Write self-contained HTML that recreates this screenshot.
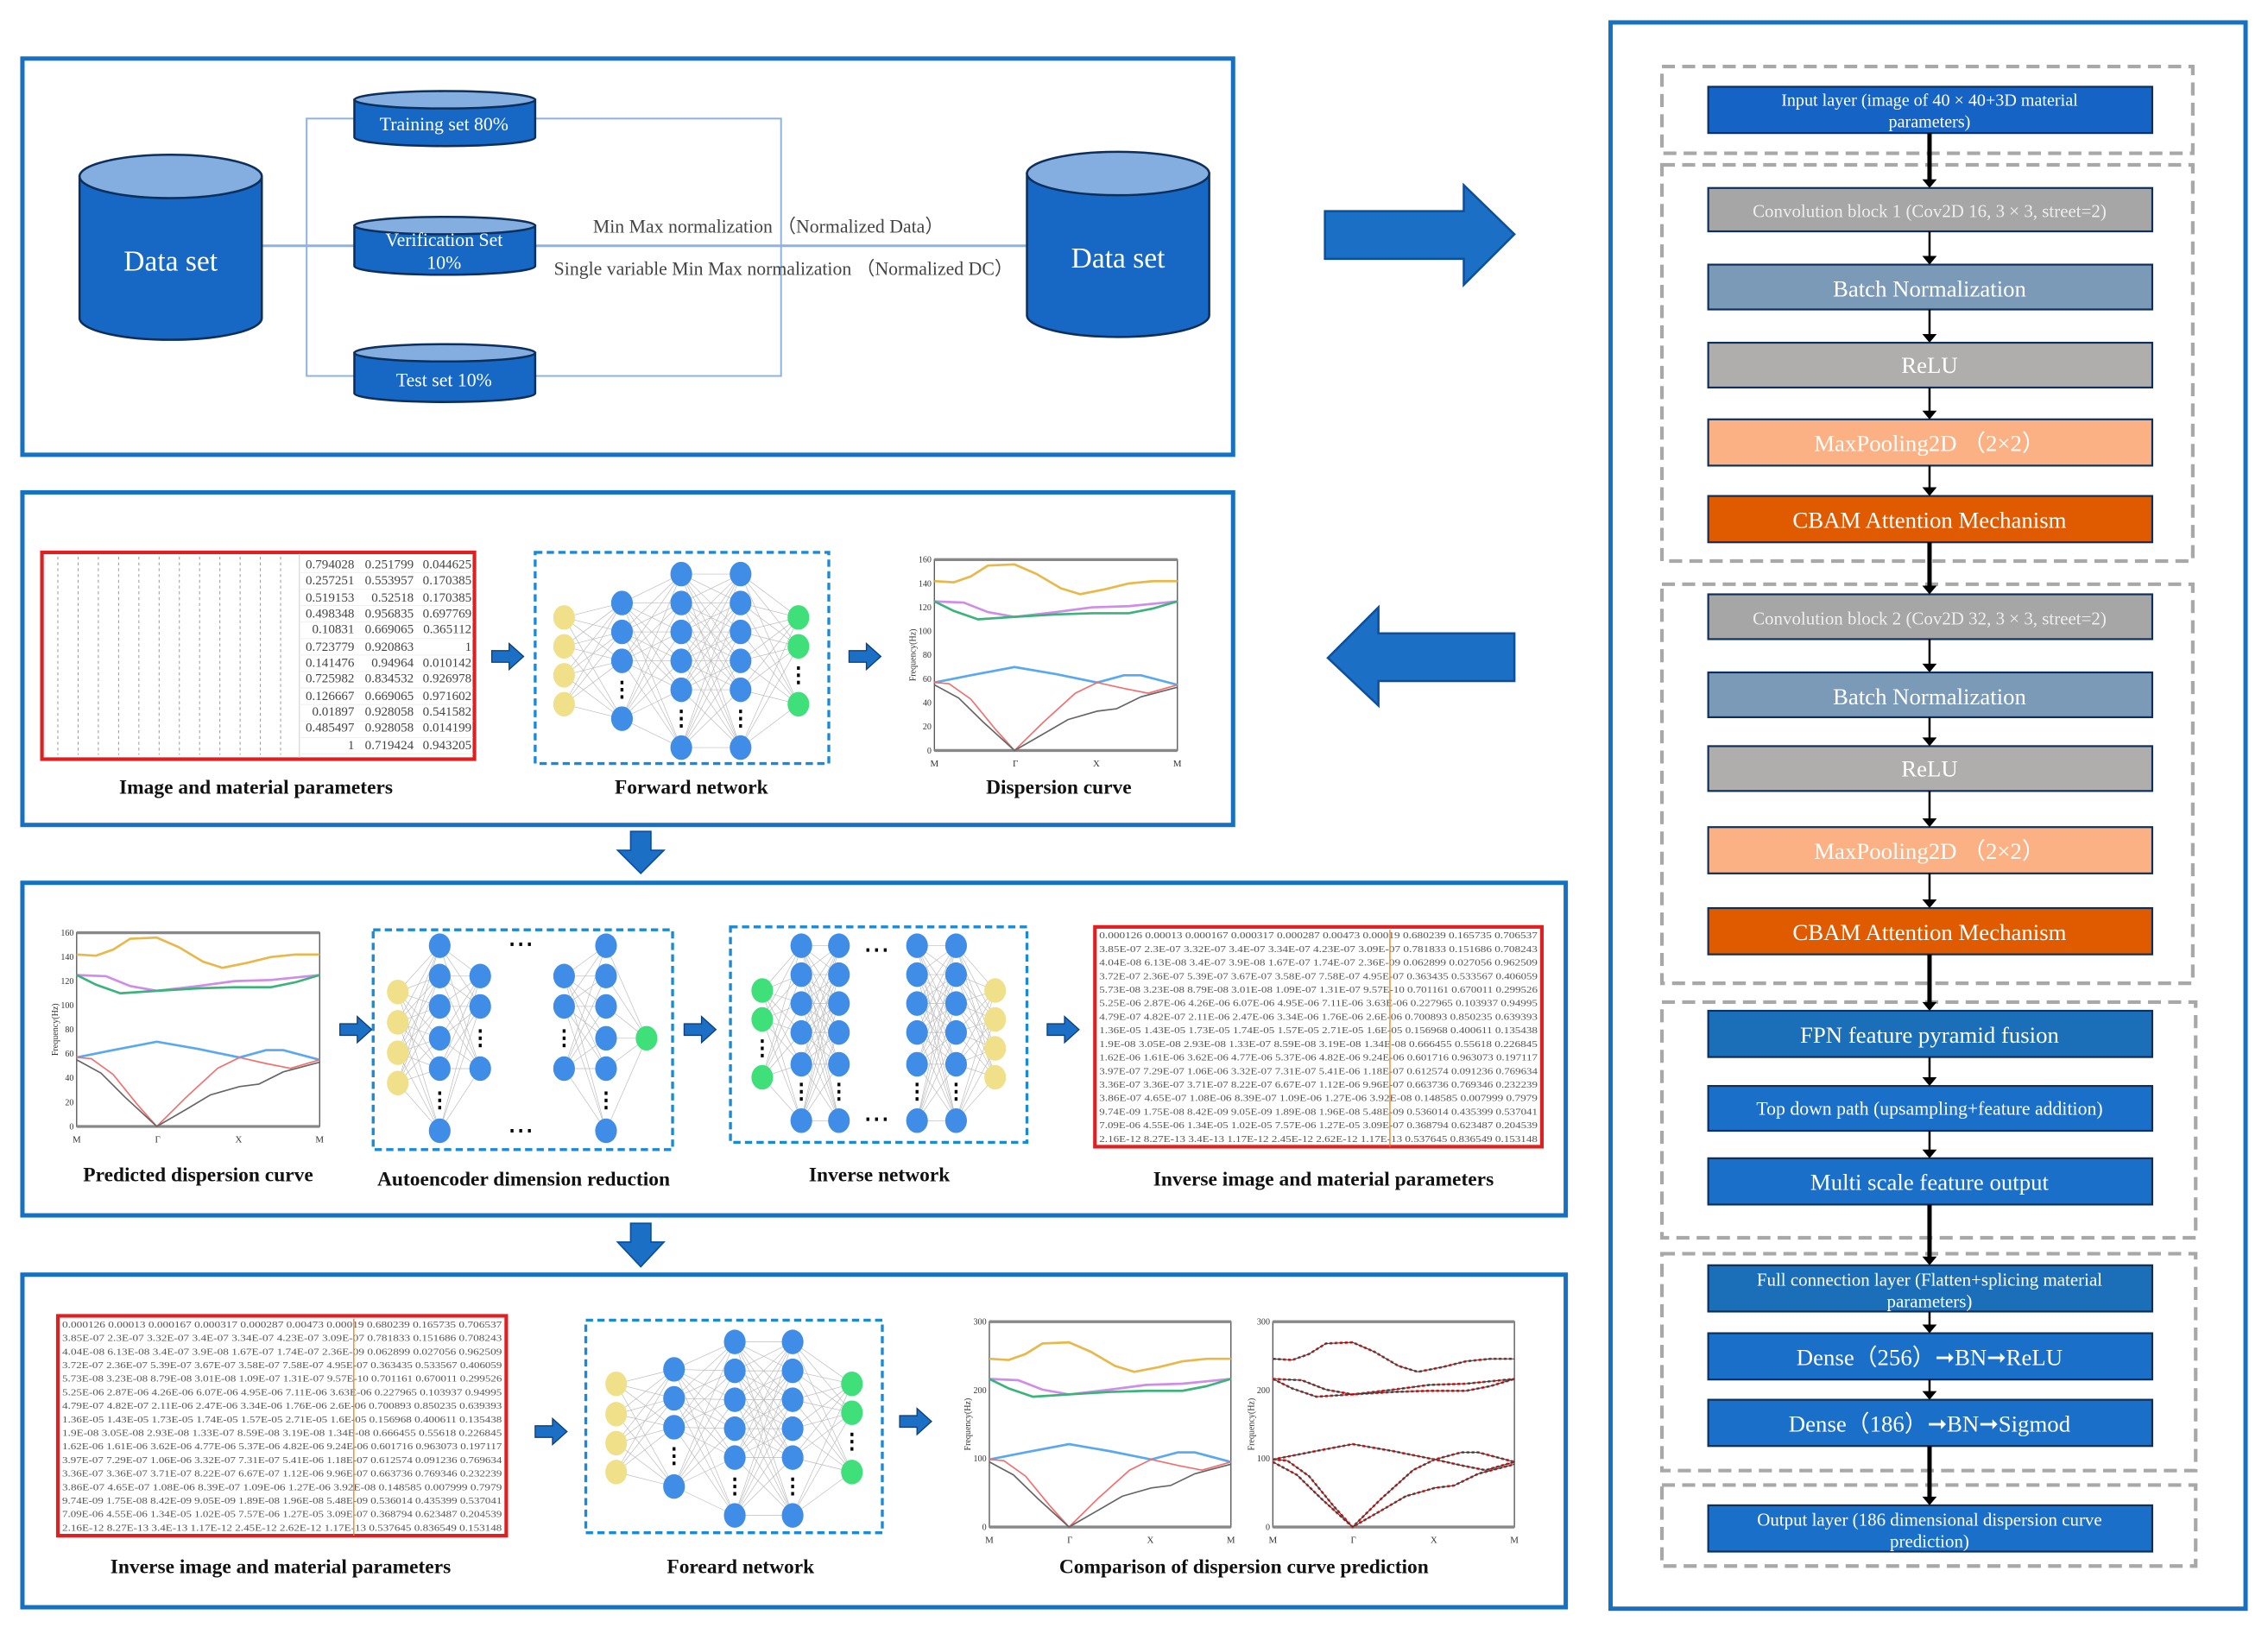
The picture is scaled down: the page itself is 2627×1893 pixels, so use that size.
<!DOCTYPE html>
<html><head><meta charset="utf-8"><style>
html,body{margin:0;padding:0;background:#fff;width:2627px;height:1893px;overflow:hidden}
svg{display:block}
text{font-family:"Liberation Serif",serif}
</style></head><body>
<svg id="s" width="2627" height="1893" viewBox="0 0 1568 1130" preserveAspectRatio="none" xmlns="http://www.w3.org/2000/svg">
<rect width="1568" height="1130" fill="#fff"/>

<g fill="none" stroke="#1671c2" stroke-width="3">
<rect x="15.5" y="40.5" width="837" height="274"/>
<rect x="15.5" y="340.5" width="837" height="230"/>
<rect x="15.5" y="610.5" width="1067" height="230"/>
<rect x="15.5" y="881.5" width="1067" height="230"/>
<rect x="1113.5" y="15.5" width="439" height="1097"/>
</g>

<g stroke="#8db3e2" stroke-width="1.2" fill="none">
<rect x="212" y="82" width="328" height="178"/>
<line x1="181" y1="170" x2="710" y2="170" stroke-width="1.8"/>
</g>
<g id="cyls"></g>
<text x="118" y="187" font-size="20" fill="#fff" text-anchor="middle">Data set</text>
<text x="773" y="185" font-size="20" fill="#fff" text-anchor="middle">Data set</text>
<text x="307" y="90" font-size="13" fill="#fff" text-anchor="middle">Training set 80%</text>
<text x="307" y="170" font-size="13" fill="#fff" text-anchor="middle">Verification Set</text>
<text x="307" y="186" font-size="13" fill="#fff" text-anchor="middle">10%</text>
<text x="307" y="267" font-size="13" fill="#fff" text-anchor="middle">Test set 10%</text>
<text x="410" y="161" font-size="13" fill="#444">Min Max normalization （Normalized Data）</text>
<text x="383" y="190" font-size="13" fill="#444">Single variable Min Max normalization （Normalized DC）</text>

<path d="M916,146 L1012,146 L1012,128 L1047,162 L1012,197 L1012,179 L916,179 Z" fill="#1b6fc4" stroke="#0d4f9c" stroke-width="1.5"/>
<path d="M1047,438 L953,438 L953,420 L918,455 L953,488 L953,471 L1047,471 Z" fill="#1b6fc4" stroke="#0d4f9c" stroke-width="1.5"/>
<path d="M436,575 L450,575 L450,588 L459,588 L443,604 L427,588 L436,588 Z" fill="#1b6fc4" stroke="#0d4f9c"/>
<path d="M436,846 L450,846 L450,859 L459,859 L443,876 L427,859 L436,859 Z" fill="#1b6fc4" stroke="#0d4f9c"/>

<rect x="29" y="382" width="299" height="143" fill="#fff" stroke="#e02020" stroke-width="2.5"/>
<g id="grid2"></g>
<g font-size="9" fill="#444" text-anchor="end">
<text x="245" y="393">0.794028</text><text x="286" y="393">0.251799</text><text x="326" y="393">0.044625</text>
<text x="245" y="404">0.257251</text><text x="286" y="404">0.553957</text><text x="326" y="404">0.170385</text>
<text x="245" y="416">0.519153</text><text x="286" y="416">0.52518</text><text x="326" y="416">0.170385</text>
<text x="245" y="427">0.498348</text><text x="286" y="427">0.956835</text><text x="326" y="427">0.697769</text>
<text x="245" y="438">0.10831</text><text x="286" y="438">0.669065</text><text x="326" y="438">0.365112</text>
<text x="245" y="450">0.723779</text><text x="286" y="450">0.920863</text><text x="326" y="450">1</text>
<text x="245" y="461">0.141476</text><text x="286" y="461">0.94964</text><text x="326" y="461">0.010142</text>
<text x="245" y="472">0.725982</text><text x="286" y="472">0.834532</text><text x="326" y="472">0.926978</text>
<text x="245" y="484">0.126667</text><text x="286" y="484">0.669065</text><text x="326" y="484">0.971602</text>
<text x="245" y="495">0.01897</text><text x="286" y="495">0.928058</text><text x="326" y="495">0.541582</text>
<text x="245" y="506">0.485497</text><text x="286" y="506">0.928058</text><text x="326" y="506">0.014199</text>
<text x="245" y="518">1</text><text x="286" y="518">0.719424</text><text x="326" y="518">0.943205</text>
</g>
<rect x="370" y="382" width="203" height="146" fill="none" stroke="#1a8ad4" stroke-width="2" stroke-dasharray="5,3"/>
<g id="net2"></g>
<g id="ch2"></g>
<g id="smallarrows"></g>
<g font-size="14" font-weight="bold" fill="#111" text-anchor="middle">
<text x="177" y="549">Image and material parameters</text>
<text x="478" y="549">Forward network</text>
<text x="732" y="549">Dispersion curve</text>
</g>

<g id="ch3"></g>
<rect x="258" y="643" width="207" height="152" fill="none" stroke="#1a8ad4" stroke-width="2" stroke-dasharray="5,3"/>
<rect x="505" y="641" width="205" height="149" fill="none" stroke="#1a8ad4" stroke-width="2" stroke-dasharray="5,3"/>
<g id="net3"></g>
<rect x="757" y="641" width="309" height="152" fill="#fff" stroke="#e02020" stroke-width="2.5"/>
<g id="tab3" font-size="6.3" fill="#555"></g>
<g font-size="14" font-weight="bold" fill="#111" text-anchor="middle">
<text x="137" y="817">Predicted dispersion curve</text>
<text x="362" y="820">Autoencoder dimension reduction</text>
<text x="608" y="817">Inverse network</text>
<text x="915" y="820">Inverse image and material parameters</text>
</g>

<rect x="40" y="910" width="310" height="152" fill="#fff" stroke="#e02020" stroke-width="2.5"/>
<g id="tab4" font-size="6.3" fill="#555"></g>
<rect x="405" y="913" width="205" height="147" fill="none" stroke="#1a8ad4" stroke-width="2" stroke-dasharray="5,3"/>
<g id="net4"></g>
<g id="ch4"></g>
<g font-size="14" font-weight="bold" fill="#111" text-anchor="middle">
<text x="194" y="1088">Inverse image and material parameters</text>
<text x="512" y="1088">Foreard network</text>
<text x="860" y="1088">Comparison of dispersion curve prediction</text>
</g>

<g fill="none" stroke="#a8a8a8" stroke-width="2.5" stroke-dasharray="9,5">
<rect x="1149" y="46" width="367" height="60"/>
<rect x="1149" y="114" width="367" height="274"/>
<rect x="1149" y="404" width="367" height="276"/>
<rect x="1149" y="693" width="369" height="163"/>
<rect x="1149" y="867" width="369" height="150"/>
<rect x="1149" y="1027" width="369" height="56"/>
</g>
<g id="flow"></g>
<g fill="#fff" text-anchor="middle">
<text x="1334" y="73" font-size="12">Input layer (image of 40 × 40+3D material</text>
<text x="1334" y="88" font-size="12">parameters)</text>
<text x="1334" y="150" font-size="12.5" fill="#eee">Convolution block 1 (Cov2D 16, 3 × 3, street=2)</text>
<text x="1334" y="205" font-size="16">Batch Normalization</text>
<text x="1334" y="258" font-size="16">ReLU</text>
<text x="1334" y="312" font-size="16">MaxPooling2D （2×2）</text>
<text x="1334" y="365" font-size="16">CBAM Attention Mechanism</text>
<text x="1334" y="432" font-size="12.5" fill="#eee">Convolution block 2 (Cov2D 32, 3 × 3, street=2)</text>
<text x="1334" y="487" font-size="16">Batch Normalization</text>
<text x="1334" y="537" font-size="16">ReLU</text>
<text x="1334" y="594" font-size="16">MaxPooling2D （2×2）</text>
<text x="1334" y="650" font-size="16">CBAM Attention Mechanism</text>
<text x="1334" y="721" font-size="16">FPN feature pyramid fusion</text>
<text x="1334" y="771" font-size="13">Top down path (upsampling+feature addition)</text>
<text x="1334" y="823" font-size="16">Multi scale feature output</text>
<text x="1334" y="889" font-size="12.5">Full connection layer (Flatten+splicing material</text>
<text x="1334" y="904" font-size="12.5">parameters)</text>
<text x="1334" y="944" font-size="16">Dense（256）➞BN➞ReLU</text>
<text x="1334" y="990" font-size="16">Dense（186）➞BN➞Sigmod</text>
<text x="1334" y="1055" font-size="12.5">Output layer (186 dimensional dispersion curve</text>
<text x="1334" y="1070" font-size="12.5">prediction)</text>
</g>
</svg>
<script>
const NS="http://www.w3.org/2000/svg";
function el(p,t,a){const e=document.createElementNS(NS,t);for(const k in a)e.setAttribute(k,a[k]);p.appendChild(e);return e;}
const g=id=>document.getElementById(id);
function cyl(x,y,w,h,ry){const c=g('cyls');
 el(c,'path',{d:`M${x},${y} L${x},${y+h} A${w/2},${ry} 0 0 0 ${x+w},${y+h} L${x+w},${y} Z`,fill:'#1668c4',stroke:'#0c2f5c','stroke-width':1.5});
 el(c,'ellipse',{cx:x+w/2,cy:y,rx:w/2,ry:ry,fill:'#85aee0',stroke:'#0c2f5c','stroke-width':1.5});}
cyl(55,122,126,98,15);cyl(710,120,126,98,15);
cyl(245,69,125,26,6);cyl(245,156,125,28,6);cyl(245,244,125,28,6);
(function(){const c=g('grid2');for(let i=0;i<12;i++){el(c,'line',{x1:40+i*14,y1:385,x2:40+i*14,y2:522,stroke:'#999','stroke-width':0.6,'stroke-dasharray':'2,2'});}
el(c,'line',{x1:207,y1:383,x2:207,y2:524,stroke:'#ccc','stroke-width':0.6});
for(let i=0;i<12;i++)el(c,'line',{x1:207,y1:396+i*11.4,x2:327,y2:396+i*11.4,stroke:'#eee','stroke-width':0.5});})();
function net(id,layers,r){const c=g(id);const lg=el(c,'g',{stroke:'#bbb','stroke-width':0.4});
 for(let i=0;i<layers.length-1;i++){const a=layers[i],b=layers[i+1];if(a.nolink)continue;for(const y1 of a.ys)for(const y2 of b.ys)el(lg,'line',{x1:a.x,y1:y1,x2:b.x,y2:y2});}
 for(const L of layers){for(const y of L.ys)el(c,'ellipse',{cx:L.x,cy:y,rx:r[0],ry:r[1],fill:L.c});
  if(L.d)for(const dy of L.d)for(let k=-1;k<=1;k++)el(c,'rect',{x:L.x-1,y:dy+k*5-1.2,width:2,height:2.4,fill:'#000'});}}
const Y='#f0e08a',B='#3f8de6',G='#3fe07a';
net('net2',[{x:390,ys:[427,447,467,487],c:Y},{x:430,ys:[417,437,457,497],c:B,d:[477]},{x:471,ys:[397,417,437,457,477,517],c:B,d:[497]},{x:512,ys:[397,417,437,457,477,517],c:B,d:[497]},{x:552,ys:[427,447,487],c:G,d:[467]}],[7.5,8.5]);
net('net4',[{x:426,ys:[957,978,998,1018],c:Y},{x:466,ys:[947,967,987,1028],c:B,d:[1007]},{x:508,ys:[928,948,968,988,1008,1048],c:B,d:[1028]},{x:548,ys:[928,948,968,988,1008,1048],c:B,d:[1028]},{x:589,ys:[957,977,1018],c:G,d:[997]}],[7.5,8.5]);
net('net3',[{x:275,ys:[686,707,728,749],c:Y},{x:304,ys:[654,675,696,718,739,782],c:B,d:[761]},{x:332,ys:[675,696,739],c:B,d:[718],nolink:true},{x:390,ys:[675,696,739],c:B,d:[718]},{x:419,ys:[654,675,696,718,739,782],c:B,d:[761]},{x:447,ys:[718],c:G}],[7.5,8.5]);
net('net3',[{x:527,ys:[685,705,745],c:G,d:[725]},{x:554,ys:[654,674,694,714,736,775],c:B,d:[755]},{x:580,ys:[654,674,694,714,736,775],c:B,d:[755],nolink:true},{x:634,ys:[654,674,694,714,736,775],c:B,d:[755]},{x:661,ys:[654,674,694,714,736,775],c:B,d:[755]},{x:688,ys:[685,705,725,745],c:Y}],[7.5,8.5]);
for(const [x,y] of [[360,653],[360,782],[606,657],[606,774]])for(let k=-1;k<=1;k++)el(g('net3'),'rect',{x:x+k*6-1,y:y-1.2,width:2,height:2.4,fill:'#000'});
const curves=[
 ['#e8b84a',[[0,142],[.08,141],[.15,146],[.22,155],[.33,156],[.42,148],[.52,136],[.6,131],[.7,135],[.8,140],[.9,142],[1,142]]],
 ['#cf8ce8',[[0,125],[.12,124],[.22,116],[.33,112],[.5,116],[.65,120],[.8,121],[1,125]]],
 ['#3bb37a',[[0,125],[.08,117],[.18,110],[.33,112],[.5,114],[.65,115],[.8,115],[.9,119],[1,125]]],
 ['#5aa8f0',[[0,57],[.15,63],[.33,70],[.5,64],[.67,57],[.78,63],[.85,63],[1,55]]],
 ['#f07070',[[0,57],[.06,56],[.15,43],[.25,18],[.33,0],[.45,24],[.58,48],[.67,57],[.78,52],[.88,48],[1,55]]],
 ['#666',[[0,55],[.1,44],[.2,24],[.33,0],[.45,14],[.55,26],[.67,33],[.75,35],[.85,45],[1,53]]]];
function chart(id,x0,y0,w,h,ymax,ticks,scale,mono){const c=g(id);
 el(c,'rect',{x:x0,y:y0,width:w,height:h,fill:'none',stroke:'#555','stroke-width':0.8});
 el(c,'line',{x1:x0,y1:y0,x2:x0+w,y2:y0,stroke:'#888','stroke-width':2});
 el(c,'line',{x1:x0,y1:y0+h,x2:x0+w,y2:y0+h,stroke:'#888','stroke-width':2});
 for(const t of ticks){const y=y0+h-t/ymax*h;const tx=el(c,'text',{x:x0-2,y:y+2,'font-size':6,'text-anchor':'end',fill:'#333'});tx.textContent=t;}
 ['M','Γ','X','M'].forEach((s,i)=>{const tx=el(c,'text',{x:x0+w*i/3,y:y0+h+11,'font-size':6.5,'text-anchor':'middle',fill:'#333'});tx.textContent=s;});
 const tx=el(c,'text',{x:0,y:0,'font-size':6,'text-anchor':'middle',fill:'#333',transform:`translate(${x0-13},${y0+h/2}) rotate(-90)`});tx.textContent='Frequency(Hz)';
 for(const [col,pts] of curves){const d=pts.map((p,i)=>(i?'L':'M')+(x0+p[0]*w).toFixed(1)+','+(y0+h-(p[1]*scale)/ymax*h).toFixed(1)).join(' ');
  if(mono){el(c,'path',{d,fill:'none',stroke:'#e03030','stroke-width':1.6,'stroke-dasharray':'2,1.5'});el(c,'path',{d,fill:'none',stroke:'#333','stroke-width':0.6});}
  else el(c,'path',{d,fill:'none',stroke:col,'stroke-width':col=='#666'||col=='#f07070'?1:1.6});}}
chart('ch2',646,387,168,132,160,[0,20,40,60,80,100,120,140,160],1,false);
chart('ch3',53,645,168,134,160,[0,20,40,60,80,100,120,140,160],1,false);
chart('ch4',684,914,167,142,300,[0,100,200,300],1.73,false);
chart('ch4',880,914,167,142,300,[0,100,200,300],1.73,true);
function sa(x,y){el(g('smallarrows'),'path',{d:`M${x},${y-4} L${x+12},${y-4} L${x+12},${y-9} L${x+22},${y} L${x+12},${y+9} L${x+12},${y+4} L${x},${y+4} Z`,fill:'#1b6fc4',stroke:'#0d3f7c','stroke-width':0.8});}
sa(340,454);sa(587,454);sa(235,712);sa(473,712);sa(724,712);sa(370,990);sa(622,983);
const rows=["0.000126 0.00013 0.000167 0.000317 0.000287 0.00473 0.00019 0.680239 0.165735 0.706537",
"3.85E-07 2.3E-07 3.32E-07 3.4E-07 3.34E-07 4.23E-07 3.09E-07 0.781833 0.151686 0.708243",
"4.04E-08 6.13E-08 3.4E-07 3.9E-08 1.67E-07 1.74E-07 2.36E-09 0.062899 0.027056 0.962509",
"3.72E-07 2.36E-07 5.39E-07 3.67E-07 3.58E-07 7.58E-07 4.95E-07 0.363435 0.533567 0.406059",
"5.73E-08 3.23E-08 8.79E-08 3.01E-08 1.09E-07 1.31E-07 9.57E-10 0.701161 0.670011 0.299526",
"5.25E-06 2.87E-06 4.26E-06 6.07E-06 4.95E-06 7.11E-06 3.63E-06 0.227965 0.103937 0.94995",
"4.79E-07 4.82E-07 2.11E-06 2.47E-06 3.34E-06 1.76E-06 2.6E-06 0.700893 0.850235 0.639393",
"1.36E-05 1.43E-05 1.73E-05 1.74E-05 1.57E-05 2.71E-05 1.6E-05 0.156968 0.400611 0.135438",
"1.9E-08 3.05E-08 2.93E-08 1.33E-07 8.59E-08 3.19E-08 1.34E-08 0.666455 0.55618 0.226845",
"1.62E-06 1.61E-06 3.62E-06 4.77E-06 5.37E-06 4.82E-06 9.24E-06 0.601716 0.963073 0.197117",
"3.97E-07 7.29E-07 1.06E-06 3.32E-07 7.31E-07 5.41E-06 1.18E-07 0.612574 0.091236 0.769634",
"3.36E-07 3.36E-07 3.71E-07 8.22E-07 6.67E-07 1.12E-06 9.96E-07 0.663736 0.769346 0.232239",
"3.86E-07 4.65E-07 1.08E-06 8.39E-07 1.09E-06 1.27E-06 3.92E-08 0.148585 0.007999 0.7979",
"9.74E-09 1.75E-08 8.42E-09 9.05E-09 1.89E-08 1.96E-08 5.48E-09 0.536014 0.435399 0.537041",
"7.09E-06 4.55E-06 1.34E-05 1.02E-05 7.57E-06 1.27E-05 3.09E-07 0.368794 0.623487 0.204539",
"2.16E-12 8.27E-13 3.4E-13 1.17E-12 2.45E-12 2.62E-12 1.17E-13 0.537645 0.836549 0.153148"];
function tab(id,x0,y0,w,h){const c=g(id);const dy=h/16;
 rows.forEach((r,i)=>{const t=el(c,'text',{x:x0+3,y:y0+6+i*dy,textLength:w-6,lengthAdjust:'spacingAndGlyphs'});t.textContent=r;});
 el(c,'line',{x1:x0+w*0.66,y1:y0,x2:x0+w*0.66,y2:y0+h,stroke:'#f08020','stroke-width':0.8});}
tab('tab3',757,643,309,150);tab('tab4',40,912,310,150);
const boxes=[[60,92,'#1563c4'],[130,160,'#a6a6a6'],[183,214,'#7b9ab8'],[237,268,'#b0adad'],[290,322,'#fbb183'],[343,375,'#e05a00'],
[411,442,'#a6a6a6'],[465,496,'#7b9ab8'],[516,547,'#b0adad'],[572,604,'#fbb183'],[628,660,'#e05a00'],
[699,731,'#1a6fb8'],[751,782,'#1a6fc8'],[801,833,'#1a6fc8'],[875,907,'#1a6fb8'],[922,954,'#1a6fc8'],[968,1000,'#1a6fc8'],[1041,1073,'#1a6fc8']];
const f=g('flow');
boxes.forEach(b=>el(f,'rect',{x:1181,y:b[0],width:307,height:b[1]-b[0],fill:b[2],stroke:'#0c2f5c','stroke-width':1.3}));
for(let i=0;i<boxes.length-1;i++){const y1=boxes[i][1],y2=boxes[i+1][0];const big=[0,5,10,13,16].includes(i);
 el(f,'line',{x1:1334,y1:y1,x2:1334,y2:y2-4,stroke:'#000','stroke-width':big?3:1.5});
 el(f,'path',{d:`M1329,${y2-6} L1339,${y2-6} L1334,${y2} Z`,fill:'#000'});}
</script>
</body></html>
